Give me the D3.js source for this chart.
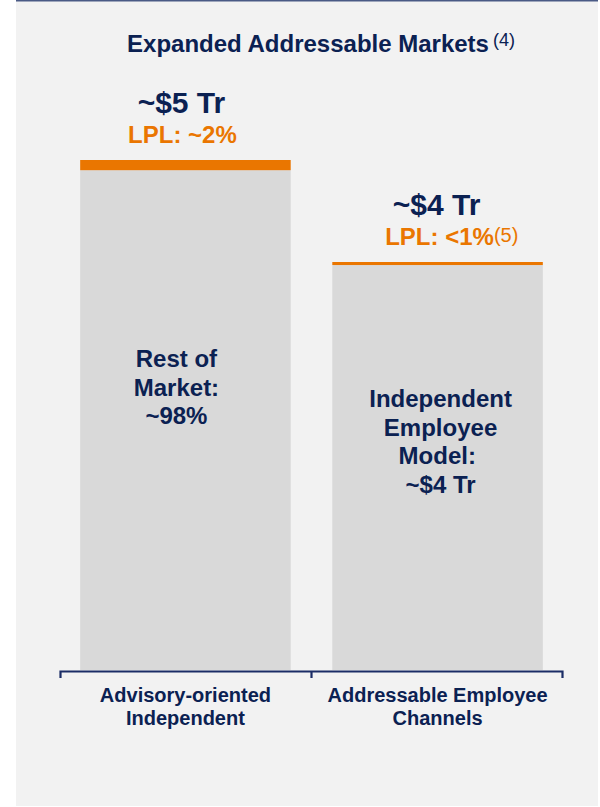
<!DOCTYPE html>
<html>
<head>
<meta charset="utf-8">
<script src="https://cdn.jsdelivr.net/npm/d3@7"></script>
<style>
  body { margin: 0; background: #fff; }
  text { font-family: "Liberation Sans", Arial, sans-serif; }
</style>
</head>
<body>
<div id="chart"></div>
<script>
var width = 600,
    height = 807,
    navy = "#0b2152",
    orange = "#ea7600";

// data
var categories = ["Advisory-oriented Independent", "Addressable Employee Channels"];
var categoryLines = [["Advisory-oriented", "Independent"], ["Addressable Employee", "Channels"]];
var totals = [5, 4];            // $ Tr
var lplShare = [2, 0.75];       // % held by LPL
var totalLabels = ["~$5 Tr", "~$4 Tr"];
var lplLabels = ["LPL: ~2%", "LPL: <1%"];
var lplNotes = ["", "(5)"];
var restLabels = [["Rest of", "Market:", "~98%"],
                  ["Independent", "Employee", "Model: ", "~$4 Tr"]];

// layout bits
var innerFirstBaseline = [367, 407],
    innerDx = [-9, 3],
    labelDx = [-3, 0];

var svg = d3.select("#chart").append("svg")
    .attr("width", width)
    .attr("height", height);

svg.append("rect")
    .attr("x", 16)
    .attr("y", 0)
    .attr("width", 582)
    .attr("height", 806)
    .attr("fill", "#f2f2f2");

svg.append("line")
    .attr("x1", 16)
    .attr("x2", 598)
    .attr("y1", 0.75)
    .attr("y2", 0.75)
    .attr("stroke", "#4a5a85")
    .attr("stroke-width", 1.5);

// title
var title = svg.append("text")
    .attr("x", 308)
    .attr("y", 52)
    .attr("text-anchor", "middle")
    .attr("font-size", 24)
    .attr("font-weight", "bold")
    .attr("fill", navy)
    .text("Expanded Addressable Markets");
var tw = title.node().getComputedTextLength();
svg.append("text")
    .attr("x", 308 + tw / 2 + 4)
    .attr("y", 46)
    .attr("font-size", 18)
    .attr("fill", navy)
    .text("(4)");

var x = d3.scaleBand()
    .domain(categories)
    .range([60, 563])
    .paddingInner(0.165)
    .paddingOuter(0.08);

var y = d3.scaleLinear()
    .domain([0, 5])
    .range([670, 160]);

var bars = svg.selectAll("g.bar")
    .data(categories)
  .enter().append("g")
    .attr("class", "bar");

// rest of market (grey)
bars.append("rect")
    .attr("x", function(d) { return x(d); })
    .attr("width", x.bandwidth())
    .attr("y", function(d, i) { return y(totals[i] * (1 - lplShare[i] / 100)); })
    .attr("height", function(d, i) { return y(0) - y(totals[i] * (1 - lplShare[i] / 100)); })
    .attr("fill", "#d9d9d9");

// LPL share (orange)
bars.append("rect")
    .attr("x", function(d) { return x(d); })
    .attr("width", x.bandwidth())
    .attr("y", function(d, i) { return y(totals[i]); })
    .attr("height", function(d, i) { return y(totals[i] * (1 - lplShare[i] / 100)) - y(totals[i]); })
    .attr("fill", orange);

// value labels above bars
bars.append("text")
    .attr("x", function(d, i) { return x(d) + x.bandwidth() / 2 + labelDx[i] - 1; })
    .attr("y", function(d, i) { return y(totals[i]) - 47; })
    .attr("text-anchor", "middle")
    .attr("font-size", 30)
    .attr("font-weight", "bold")
    .attr("fill", navy)
    .text(function(d, i) { return totalLabels[i]; });

bars.each(function(d, i) {
  var g = d3.select(this),
      cx = x(d) + x.bandwidth() / 2 + labelDx[i] + (i ? 2 : 0),
      by = y(totals[i]) - 17;
  var t = g.append("text")
      .attr("x", cx)
      .attr("y", by)
      .attr("text-anchor", "middle")
      .attr("font-size", 24)
      .attr("font-weight", "bold")
      .attr("fill", orange)
      .text(lplLabels[i]);
  if (lplNotes[i]) {
    var w = t.node().getComputedTextLength();
    g.append("text")
        .attr("x", cx + w / 2)
        .attr("y", by - 3)
        .attr("font-size", 20)
        .attr("fill", orange)
        .text(lplNotes[i]);
  }

  // label inside the grey bar
  g.append("text")
      .attr("text-anchor", "middle")
      .attr("font-size", 24)
      .attr("font-weight", "bold")
      .attr("fill", navy)
      .style("white-space", "pre")
    .selectAll("tspan")
      .data(restLabels[i])
    .enter().append("tspan")
      .attr("x", x(d) + x.bandwidth() / 2 + innerDx[i])
      .attr("y", function(s, j) { return innerFirstBaseline[i] + j * 28.6; })
      .text(function(s) { return s; });
});

// bracket under bars
var r = x.range(),
    mid = x(categories[1]) - x.step() * x.paddingInner() / 2;
svg.append("path")
    .attr("d", "M" + (r[0] + 0.5) + ",678V671.5H" + (r[1] - 0.5) + "V678M" + mid + ",671.5V678")
    .attr("fill", "none")
    .attr("stroke", "#1b2d66")
    .attr("stroke-width", 2.2);

// category labels
svg.selectAll("text.cat")
    .data(categories)
  .enter().append("text")
    .attr("class", "cat")
    .attr("text-anchor", "middle")
    .attr("font-size", 20)
    .attr("font-weight", "bold")
    .attr("fill", navy)
  .selectAll("tspan")
    .data(function(d, i) { return categoryLines[i].map(function(s) { return {s: s, c: d}; }); })
  .enter().append("tspan")
    .attr("x", function(o) { return x(o.c) + x.bandwidth() / 2; })
    .attr("y", function(o, j) { return 702 + j * 22.6; })
    .text(function(o) { return o.s; });
</script>
</body>
</html>
